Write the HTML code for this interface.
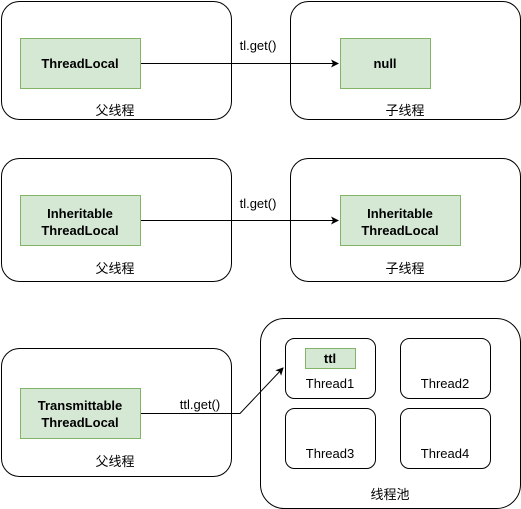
<html><body style="margin:0;background:#fff">
<svg width="521" height="509" xmlns="http://www.w3.org/2000/svg" font-family="Liberation Sans, Noto Sans CJK SC, sans-serif" font-size="13">
<defs><marker id="a" markerWidth="8" markerHeight="8" refX="7" refY="4" orient="auto" markerUnits="userSpaceOnUse"><path d="M0,0 L8,4 L0,8 L2,4z" fill="#000"/></marker></defs>
<g fill="none" stroke="#000">
<rect x="1.5" y="1.5" width="230" height="118" rx="18"/>
<rect x="290.5" y="1.5" width="230" height="118" rx="18"/>
<rect x="1.5" y="158.5" width="230" height="123" rx="18"/>
<rect x="290.5" y="158.5" width="230" height="123" rx="18"/>
<rect x="1.5" y="348.5" width="230" height="128" rx="18"/>
<rect x="260.5" y="318.5" width="260" height="190" rx="24"/>
<rect x="285.5" y="338.5" width="90" height="60" rx="9"/>
<rect x="400.5" y="338.5" width="90" height="60" rx="9"/>
<rect x="285.5" y="408.5" width="90" height="60" rx="9"/>
<rect x="400.5" y="408.5" width="90" height="60" rx="9"/>
</g>
<g fill="#d5e8d4" stroke="#82b366">
<rect x="20.5" y="38.5" width="120" height="50"/>
<rect x="340.5" y="38.5" width="90" height="50"/>
<rect x="20.5" y="195.5" width="120" height="50"/>
<rect x="340.5" y="195.5" width="120" height="50"/>
<rect x="20.5" y="388.5" width="120" height="50"/>
<rect x="305.5" y="348.5" width="50" height="20"/>
</g>
<g stroke="#000" fill="none">
<line x1="141" y1="63.5" x2="338" y2="63.5" marker-end="url(#a)"/>
<line x1="141" y1="220.5" x2="338" y2="220.5" marker-end="url(#a)"/>
<polyline points="141,413.5 240,413.5 283,368" marker-end="url(#a)"/>
</g>
<g text-anchor="middle" font-weight="bold">
<text x="80" y="68">ThreadLocal</text>
<text x="385" y="68">null</text>
<text x="80" y="218">Inheritable</text><text x="80" y="235">ThreadLocal</text>
<text x="400" y="218">Inheritable</text><text x="400" y="235">ThreadLocal</text>
<text x="80" y="410">Transmittable</text><text x="80" y="427">ThreadLocal</text>
<text x="330" y="363">ttl</text>
</g>
<g text-anchor="middle">
<text x="258" y="50" fill="#000">tl.get()</text>
<text x="258" y="208">tl.get()</text>
<text x="200" y="409">ttl.get()</text>
<text x="115" y="115">父线程</text>
<text x="405" y="115">子线程</text>
<text x="115" y="273">父线程</text>
<text x="405" y="273">子线程</text>
<text x="115" y="466">父线程</text>
<text x="390" y="499">线程池</text>
<text x="330" y="388">Thread1</text>
<text x="445" y="388">Thread2</text>
<text x="330" y="458">Thread3</text>
<text x="445" y="458">Thread4</text>
</g>
</svg>
</body></html>
